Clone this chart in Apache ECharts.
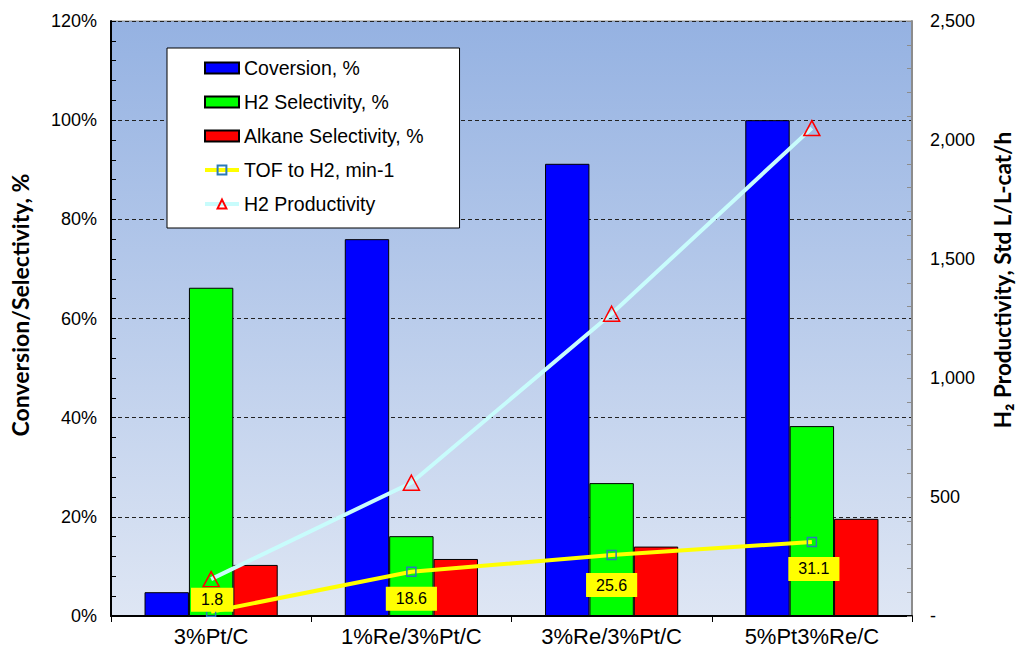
<!DOCTYPE html>
<html>
<head>
<meta charset="utf-8">
<script src="https://cdn.jsdelivr.net/npm/echarts@6/dist/echarts.min.js"></script>
<style>
  html, body { margin: 0; padding: 0; background: #ffffff; }
  #chart { width: 1016px; height: 657px; }
</style>
</head>
<body>
<div id="chart"></div>
<script>
// Catalysts compared
const categories = ['3%Pt/C', '1%Re/3%Pt/C', '3%Re/3%Pt/C', '5%Pt3%Re/C'];

// Left axis series, in percent
const conversion = [4.8, 76, 91.2, 100];
const h2Selectivity = [66.2, 16.1, 26.8, 38.3];
const alkaneSelectivity = [10.3, 11.5, 14, 19.6];

// TOF to H2, min-1 (own hidden scale)
const tofH2 = [1.8, 18.6, 25.6, 31.1];

// H2 productivity, Std L/L-cat/h (right axis)
const h2Productivity = [155, 560, 1270, 2050];

// Axis titles
const leftTitle = 'Conversion/Selectivity, %';
const rightTitle = 'H\u2082 Productivity, Std L/L-cat/h';

// Axis ranges
const leftMax = 120, leftStep = 20;
const rightMax = 2500, rightStep = 500;
const tofMax = 250;

// Where each TOF value box sits relative to its point
const tofLabelOffsets = [[1, -12], [0, 27], [0, 30], [2, 27]];

const FONT = '"Liberation Sans", Arial, sans-serif';
const TITLE_FONT = 'Lato, "Open Sans", sans-serif';

const chart = echarts.init(document.getElementById('chart'), null, { renderer: 'svg' });

const barBase = {
  type: 'bar',
  yAxisIndex: 0,
  barGap: '0%',
  barCategoryGap: '33.5%',
  z: 2
};

const option = {
  animation: false,
  backgroundColor: '#ffffff',
  grid: {
    left: 111, right: 104, top: 21, bottom: 41,
    show: true,
    borderColor: '#8c8c8c',
    borderWidth: 1,
    backgroundColor: new echarts.graphic.LinearGradient(0, 0, 0, 1, [
      { offset: 0, color: '#95b2e2' },
      { offset: 1, color: '#dee6f4' }
    ])
  },
  graphic: [
    {
      type: 'text',
      x: 20, y: 305,
      rotation: Math.PI / 2,
      style: {
        text: leftTitle,
        font: 'bold 23px ' + TITLE_FONT,
        fill: '#000',
        align: 'center',
        verticalAlign: 'middle'
      }
    },
    {
      type: 'text',
      x: 1002, y: 280,
      rotation: Math.PI / 2,
      style: {
        text: rightTitle,
        font: 'bold 22.5px ' + TITLE_FONT,
        fill: '#000',
        align: 'center',
        verticalAlign: 'middle'
      }
    }
  ],
  legend: {
    orient: 'vertical',
    left: 167,
    top: 48,
    backgroundColor: '#ffffff',
    borderColor: '#000000',
    borderWidth: 1,
    padding: [10, 36, 14, 36],
    itemWidth: 34,
    itemHeight: 11,
    itemGap: 14,
    textStyle: { fontFamily: FONT, fontSize: 19.5, color: '#000', lineHeight: 20 },
    data: [
      { name: 'Coversion, %', icon: 'rect' },
      { name: 'H2 Selectivity, %', icon: 'rect' },
      { name: 'Alkane Selectivity, %', icon: 'rect' },
      { name: 'TOF to H2, min-1', lineStyle: { width: 4 } },
      { name: 'H2 Productivity', lineStyle: { width: 4 } }
    ]
  },
  xAxis: {
    type: 'category',
    data: categories,
    axisLine: { lineStyle: { color: '#000', width: 2 } },
    axisTick: { show: true, length: 6, lineStyle: { color: '#000', width: 1 } },
    axisLabel: { fontFamily: FONT, fontSize: 22, color: '#000', margin: 9 },
    splitLine: { show: false }
  },
  yAxis: [
    {
      type: 'value',
      position: 'left',
      min: 0, max: leftMax, interval: leftStep,
      axisLine: { show: true, lineStyle: { color: '#000', width: 2 } },
      axisTick: { show: true, inside: true, length: 5, lineStyle: { color: '#000' } },
      minorTick: { show: true, splitNumber: 5, length: 5, lineStyle: { color: '#000' } },
      axisLabel: { fontFamily: FONT, fontSize: 18, color: '#000', margin: 14, formatter: '{value}%' },
      splitLine: { show: true, lineStyle: { color: '#222', width: 1, type: [4, 3] } }
    },
    {
      type: 'value',
      position: 'right',
      min: 0, max: rightMax, interval: rightStep,
      axisLine: { show: true, lineStyle: { color: '#8c8c8c', width: 2 } },
      axisTick: { show: true, inside: true, length: 5, lineStyle: { color: '#8c8c8c' } },
      minorTick: { show: true, splitNumber: 5, length: 5, lineStyle: { color: '#8c8c8c' } },
      axisLabel: {
        fontFamily: FONT, fontSize: 18, color: '#000', margin: 18,
        formatter: v => v === 0 ? '-' : v.toLocaleString('en-US')
      },
      splitLine: { show: false }
    },
    {
      type: 'value',
      position: 'right',
      min: 0, max: tofMax,
      show: false,
      splitLine: { show: false }
    }
  ],
  series: [
    Object.assign({}, barBase, {
      name: 'Coversion, %',
      data: conversion,
      itemStyle: { color: '#0000ff', borderColor: '#000', borderWidth: 1 }
    }),
    Object.assign({}, barBase, {
      name: 'H2 Selectivity, %',
      data: h2Selectivity,
      itemStyle: { color: '#00ff00', borderColor: '#000', borderWidth: 1 }
    }),
    Object.assign({}, barBase, {
      name: 'Alkane Selectivity, %',
      data: alkaneSelectivity,
      itemStyle: { color: '#ff0000', borderColor: '#000', borderWidth: 1 }
    }),
    {
      name: 'TOF to H2, min-1',
      type: 'line',
      yAxisIndex: 2,
      z: 4,
      data: tofH2.map((v, i) => ({
        value: v,
        label: { offset: tofLabelOffsets[i] }
      })),
      lineStyle: { color: '#ffff00', width: 4 },
      symbol: 'rect',
      symbolSize: 9,
      showAllSymbol: true,
      itemStyle: { color: 'rgba(0,0,0,0)', borderColor: '#2a7ab8', borderWidth: 1.5 },
      label: {
        show: true,
        position: 'inside',
        fontFamily: FONT,
        fontSize: 16,
        color: '#000',
        backgroundColor: '#ffff00',
        padding: [4, 10, 4, 10],
        formatter: p => String(p.value)
      }
    },
    {
      name: 'H2 Productivity',
      type: 'line',
      yAxisIndex: 1,
      z: 5,
      data: h2Productivity,
      lineStyle: { color: '#c8fcfc', width: 4 },
      symbol: 'triangle',
      symbolSize: [16, 15],
      showAllSymbol: true,
      itemStyle: { color: 'rgba(0,0,0,0)', borderColor: '#ff0000', borderWidth: 1.5 }
    }
  ]
};

chart.setOption(option);
</script>
</body>
</html>
